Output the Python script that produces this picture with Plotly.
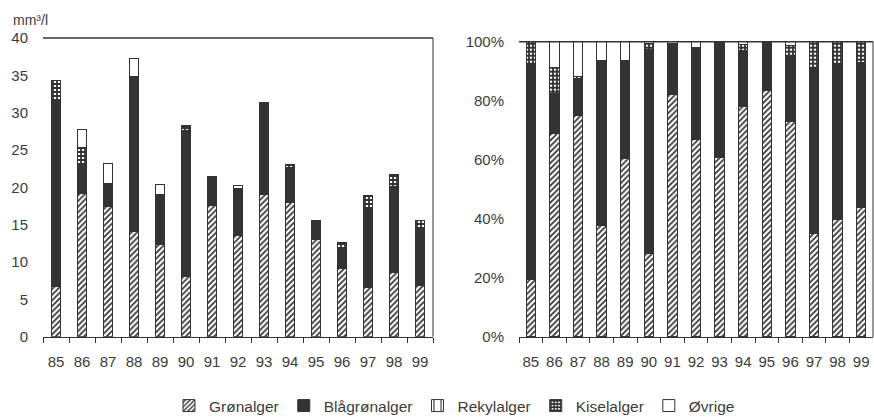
import plotly.graph_objects as go

years = ["85", "86", "87", "88", "89", "90", "91", "92", "93", "94", "95", "96", "97", "98", "99"]
gronalger = [6.7, 19.2, 17.4, 14.1, 12.3, 8.0, 17.6, 13.5, 19.1, 18.0, 13.0, 9.2, 6.6, 8.6, 6.8]
blagronalger = [24.9, 3.7, 2.9, 20.8, 6.8, 19.6, 3.7, 6.3, 12.3, 4.4, 2.6, 2.8, 10.6, 11.5, 7.6]
rekylalger = [0, 0, 0, 0, 0, 0, 0, 0, 0, 0, 0, 0, 0, 0, 0]
kiselalger = [2.7, 2.5, 0.2, 0, 0, 0.5, 0, 0, 0, 0.5, 0, 0.45, 1.7, 1.6, 1.1]
ovrige = [0, 2.4, 2.7, 2.4, 1.3, 0.2, 0.1, 0.4, 0, 0.2, 0, 0.15, 0, 0, 0]

y_ticks_left = [0, 5, 10, 15, 20, 25, 30, 35, 40]
y_ticks_right = [0, 20, 40, 60, 80, 100]
y_ticktext_right = ["0%", "20%", "40%", "60%", "80%", "100%"]

DARK = "#333333"
TXT = "#3c3c3c"
W, H = 874, 419

series = [
    ("Grønalger", gronalger, dict(color="white", pattern=dict(shape="/", fgcolor=DARK, bgcolor="white", size=4, solidity=0.45))),
    ("Blågrønalger", blagronalger, dict(color=DARK)),
    ("Rekylalger", rekylalger, dict(color="white", pattern=dict(shape="|", fgcolor=DARK, bgcolor="white", size=9, solidity=0.15))),
    ("Kiselalger", kiselalger, dict(color="white", pattern=dict(shape="+", fgcolor=DARK, bgcolor="white", size=4, solidity=0.7))),
    ("Øvrige", ovrige, dict(color="white")),
]

totals = [sum(v) for v in zip(gronalger, blagronalger, rekylalger, kiselalger, ovrige)]


def nz(vals):
    return [v if v else None for v in vals]


fig = go.Figure()
for name, vals, mk in series:
    marker = dict(mk)
    marker["line"] = dict(color=DARK, width=1)
    fig.add_trace(go.Bar(
        x=years, y=nz(vals), name=name, marker=marker, width=0.36,
        xaxis="x", yaxis="y", legendgroup=name, showlegend=True,
    ))
for name, vals, mk in series:
    marker = dict(mk)
    marker["line"] = dict(color=DARK, width=1)
    pct = [v / t * 100 for v, t in zip(vals, totals)]
    fig.add_trace(go.Bar(
        x=years, y=nz(pct), name=name, marker=marker, width=0.4,
        xaxis="x2", yaxis="y2", legendgroup=name, showlegend=False,
    ))

axfont = dict(family="Liberation Sans, Arial, sans-serif", size=15, color=TXT)
xcommon = dict(type="category", showline=True, linecolor=DARK, linewidth=1,
               ticks="outside", tickson="boundaries", ticklen=5, tickcolor=DARK,
               tickfont=axfont, showgrid=False, zeroline=False, ticklabelstandoff=11,
               tickangle=0, automargin=False)
ycommon = dict(showline=False, ticks="", showgrid=False, zeroline=False,
               tickfont=axfont, ticklabelstandoff=14, automargin=False)

fig.update_layout(
    template="none",
    width=W, height=H,
    margin=dict(l=0, r=0, t=0, b=0, pad=0, autoexpand=False),
    paper_bgcolor="white", plot_bgcolor="white",
    barmode="stack",
    font=dict(family="Liberation Sans, Arial, sans-serif", color=TXT),
    xaxis=dict(domain=[43 / W, 433 / W], anchor="y", **xcommon),
    yaxis=dict(domain=[(H - 336.7) / H, (H - 38) / H], range=[0, 40], anchor="x",
               tickvals=y_ticks_left, **ycommon),
    xaxis2=dict(domain=[519 / W, 873 / W], anchor="y2", **xcommon),
    yaxis2=dict(domain=[(H - 337) / H, (H - 41.7) / H], range=[0, 100], anchor="x2",
                tickvals=y_ticks_right, ticktext=y_ticktext_right, **ycommon),
    legend=dict(orientation="h", x=0.52, xanchor="center", y=(H - 406) / H, yanchor="middle",
                font=dict(size=15.5, color=TXT), itemwidth=30, traceorder="normal",
                bgcolor="rgba(0,0,0,0)"),
    showlegend=True,
    annotations=[dict(text="mm³/l", x=11 / W, y=(H - 20) / H, xref="paper", yref="paper",
                      xanchor="left", yanchor="middle", showarrow=False,
                      font=dict(size=14, color=TXT))],
    shapes=[
        dict(type="line", xref="x domain", yref="y domain", x0=0, x1=1, y0=1, y1=1, line=dict(color=DARK, width=1.5)),
        dict(type="line", xref="x domain", yref="y domain", x0=1, x1=1, y0=0, y1=1, line=dict(color=DARK, width=1)),
        dict(type="line", xref="x2 domain", yref="y2 domain", x0=0, x1=1, y0=1, y1=1, line=dict(color=DARK, width=1.5)),
        dict(type="line", xref="x2 domain", yref="y2 domain", x0=1, x1=1, y0=0, y1=1, line=dict(color=DARK, width=1)),
    ],
)

fig.write_html(
    "out.html",
    config={"displayModeBar": False},
    post_script="document.body.style.margin='0';document.body.style.overflow='hidden';",
)
